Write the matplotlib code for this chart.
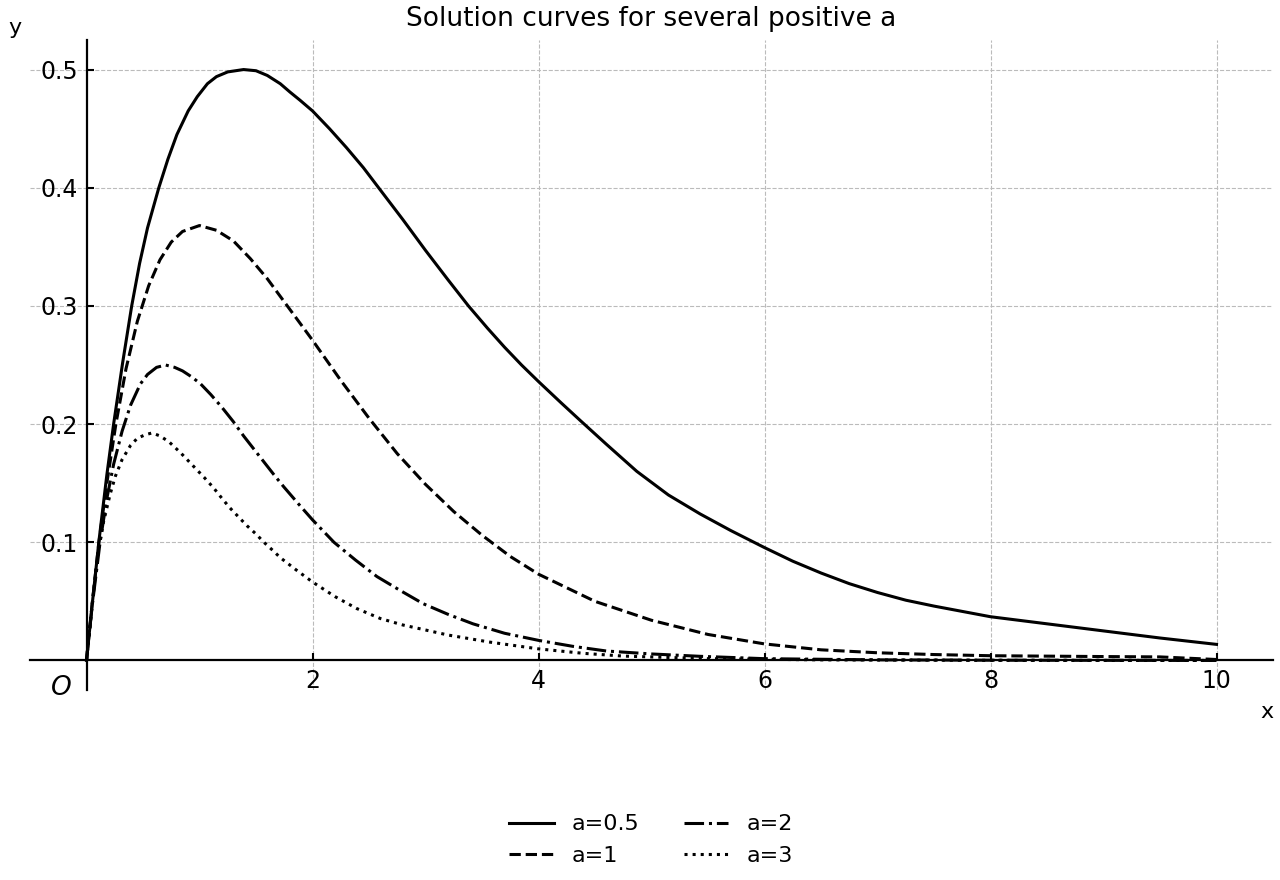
import numpy as np
import matplotlib
matplotlib.use("Agg")
import matplotlib.pyplot as plt

# values
x_a05 = [0, 0.05, 0.11, 0.18, 0.24, 0.32, 0.40, 0.47, 0.54, 0.64, 0.72, 0.80, 0.90, 0.98, 1.07,
         1.15, 1.25, 1.39, 1.50, 1.60, 1.715, 1.80, 1.89, 2.0, 2.15, 2.3, 2.45, 2.585, 2.8, 3.0,
         3.2, 3.38, 3.55, 3.7, 3.85, 4.0, 4.2, 4.37, 4.6, 4.87, 5.15, 5.43, 5.7, 6.0, 6.25, 6.5,
         6.75, 7.0, 7.25, 7.5, 8.0, 8.5, 9.0, 9.5, 10.0]
y_a05 = [0, 0.047, 0.101, 0.157, 0.20, 0.252, 0.30, 0.336, 0.366, 0.40, 0.424, 0.445, 0.465, 0.477, 0.488,
         0.494, 0.498, 0.50, 0.499, 0.495, 0.488, 0.481, 0.474, 0.465, 0.450, 0.434, 0.417, 0.40, 0.373, 0.347,
         0.322, 0.30, 0.281, 0.265, 0.250, 0.236, 0.218, 0.203, 0.183, 0.160, 0.140, 0.124, 0.110, 0.0955, 0.084, 0.074,
         0.065, 0.0575, 0.051, 0.046, 0.037, 0.031, 0.025, 0.019, 0.0136]

x_a1 = [0, 0.05, 0.11, 0.18, 0.26, 0.35, 0.45, 0.55, 0.65, 0.75, 0.85, 1.0, 1.15, 1.3, 1.45,
        1.6, 1.8, 2.0, 2.25, 2.5, 2.75, 3.0, 3.25, 3.5, 3.75, 4.0, 4.5, 5.0, 5.5, 6.0,
        6.5, 7.0, 7.5, 8.0, 9.0, 9.5, 10.0]
y_a1 = [0, 0.048, 0.1, 0.15, 0.2, 0.247, 0.287, 0.317, 0.339, 0.354, 0.363, 0.368, 0.364, 0.355, 0.340,
        0.323, 0.297, 0.271, 0.237, 0.205, 0.175, 0.149, 0.126, 0.106, 0.088, 0.073, 0.050, 0.034, 0.022, 0.014,
        0.009, 0.0065, 0.005, 0.004, 0.0033, 0.003, 0.0008]

x_a2 = [0, 0.05, 0.12, 0.18, 0.24, 0.315, 0.39, 0.477, 0.54, 0.62, 0.70, 0.78, 0.85, 0.93, 1.01,
        1.1, 1.2, 1.3, 1.39, 1.48, 1.57, 1.66, 1.745, 1.88, 2.0, 2.19, 2.38, 2.57, 2.78, 2.98,
        3.2, 3.42, 3.7, 4.0, 4.3, 4.6, 5.0, 5.43, 6.0, 7.0, 8.0, 10.0]
y_a2 = [0, 0.046, 0.1, 0.137, 0.166, 0.194, 0.216, 0.234, 0.242, 0.248, 0.250, 0.248, 0.245, 0.240, 0.234,
        0.225, 0.214, 0.202, 0.190, 0.179, 0.168, 0.157, 0.147, 0.132, 0.119, 0.1, 0.085, 0.071, 0.059, 0.048,
        0.039, 0.031, 0.023, 0.017, 0.012, 0.008, 0.0055, 0.0035, 0.0015, 0.0005, 0.0002, 0.0]

x_a3 = [0, 0.04, 0.1, 0.15, 0.21, 0.256, 0.315, 0.39, 0.45, 0.52, 0.58, 0.65, 0.73, 0.83, 0.93,
        1.04, 1.125, 1.2, 1.27, 1.35, 1.42, 1.5, 1.57, 1.65, 1.715, 1.85, 2.0, 2.2, 2.39, 2.6,
        2.8, 2.98, 3.2, 3.57, 4.0, 4.4, 4.75, 5.5, 6.5, 8.0, 10.0]
y_a3 = [0, 0.038, 0.09, 0.117, 0.141, 0.156, 0.170, 0.182, 0.188, 0.191, 0.1925, 0.190, 0.185, 0.176, 0.166,
        0.155, 0.146, 0.137, 0.129, 0.121, 0.114, 0.107, 0.100, 0.093, 0.087, 0.077, 0.0664, 0.054, 0.044, 0.0355,
        0.030, 0.0262, 0.0215, 0.0155, 0.0098, 0.006, 0.0037, 0.0015, 0.0005, 0.0001, 0.0]

labels = ["a=0.5", "a=1", "a=2", "a=3"]
styles = ["-", "--", "-.", ":"]

fig = plt.figure(figsize=(12.8, 8.8), dpi=100)
ax = fig.add_axes([30 / 1280, 1 - 690 / 880, 1243 / 1280, 650 / 880])

series = [(x_a05, y_a05), (x_a1, y_a1), (x_a2, y_a2), (x_a3, y_a3)]
for (xs, ys), ls, lab in zip(series, styles, labels):
    ax.plot(xs, ys, color="black", linestyle=ls, linewidth=2.2, label=lab)

ax.set_xlim(-0.5, 10.5)
ax.set_ylim(-0.025, 0.525)

# axes through the origin
ax.spines["left"].set_position("zero")
ax.spines["bottom"].set_position("zero")
ax.spines["right"].set_visible(False)
ax.spines["top"].set_visible(False)
ax.spines["left"].set_linewidth(1.6)
ax.spines["bottom"].set_linewidth(1.6)

ax.set_xticks([2, 4, 6, 8, 10])
ax.set_yticks([0.1, 0.2, 0.3, 0.4, 0.5])
ax.tick_params(direction="in", length=5, width=1.5, labelsize=17, pad=6)
ax.grid(True, color="#bbbbbb", linestyle="--", linewidth=0.8)

ax.text(-0.22, -0.023, "O", fontsize=19, style="italic", ha="center", va="center")
fig.text(15 / 1280, 1 - 28 / 880, "y", fontsize=16, ha="center", va="center")
fig.text(1267 / 1280, 1 - 712 / 880, "x", fontsize=16, ha="center", va="center")

ax.set_title("Solution curves for several positive a", fontsize=19, pad=10)

fig.legend(loc="center", bbox_to_anchor=(651 / 1280, 40 / 880), ncol=2,
           frameon=False, fontsize=16, handlelength=2.0)

fig.savefig("out.png", dpi=100)
